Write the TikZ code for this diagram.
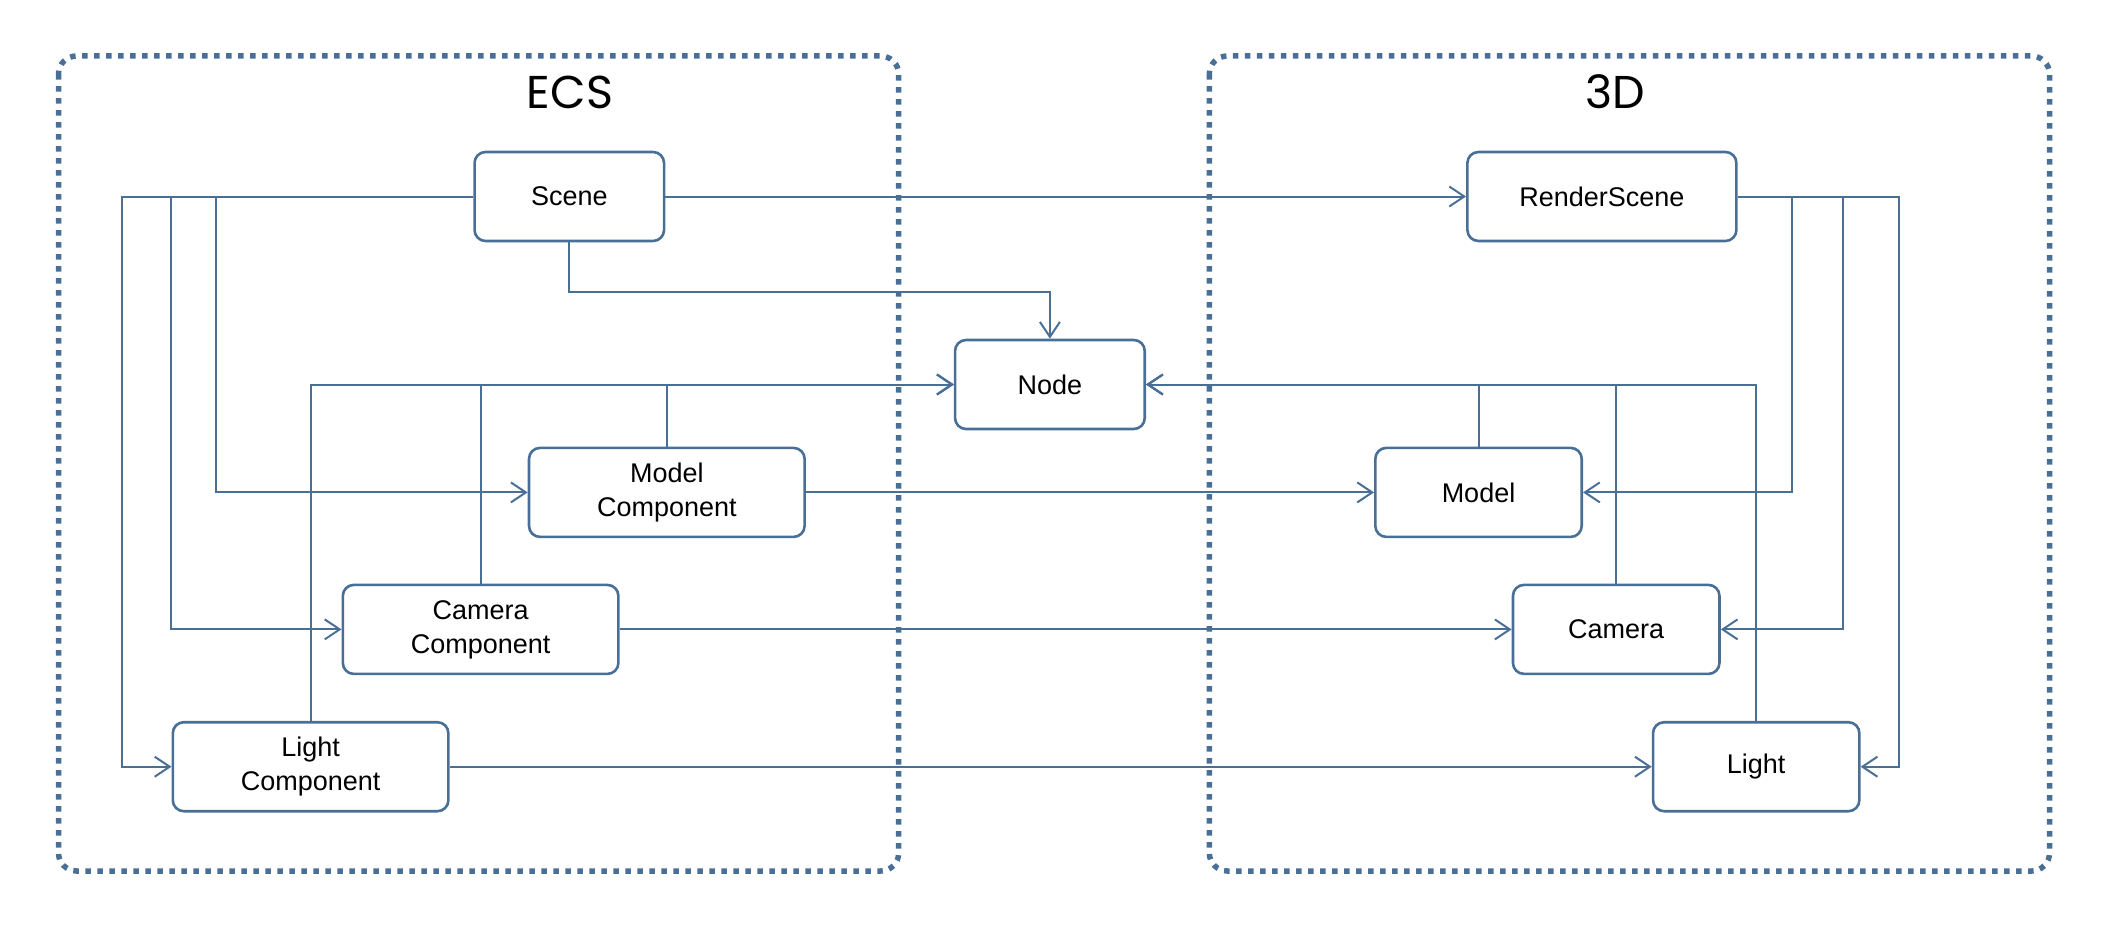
\documentclass[tikz,border=0pt]{standalone}
\usepackage{fontspec}
\setmainfont{Liberation Sans}
\newfontfamily\titlefont{Poppins}
\usetikzlibrary{arrows.meta}
\definecolor{bl}{RGB}{74,111,150}
\begin{document}
\begin{tikzpicture}[x=1pt,y=-1pt,
  box/.style={draw=bl, fill=white, line width=2.6pt, rounded corners=11pt,
    minimum height=89pt, align=center, inner sep=0pt,
    font=\fontsize{27}{34}\selectfont},
  conn/.style={draw=bl, line width=2pt},
  arr/.style={conn, -{Straight Barb[length=15pt,width=20pt,line width=2pt]}},
  group/.style={draw=bl, line width=5.5pt, dash pattern=on 5.5pt off 6.5pt,
    rounded corners=18pt},
  grouptitle/.style={inner sep=0pt, font=\titlefont\fontsize{46}{48}\selectfont}]
\useasboundingbox (0,0) rectangle (2108,934);

% groups
\draw[group] (58.5,56) rectangle (898.7,871);
\draw[group] (1209.3,56) rectangle (2049.5,871);
\node[grouptitle] (ecs) at (570,92) {ECS};
\node[grouptitle] (td) at (1615.3,92) {3D};

% nodes
\node[box, minimum width=189.5pt] (scene) at (569.3,196.5) {Scene};
\node[box, minimum width=269pt] (rscene) at (1601.9,196.5) {RenderScene};
\node[box, minimum width=189.7pt] (node) at (1049.9,384.5) {Node};
\node[box, minimum width=275.6pt] (modc) at (666.8,492.4) {Model\\Component};
\node[box, minimum width=206.4pt] (model) at (1478.5,492.4) {Model};
\node[box, minimum width=275.6pt] (camc) at (480.6,629.4) {Camera\\Component};
\node[box, minimum width=206.5pt] (cam) at (1616.2,629.4) {Camera};
\node[box, minimum width=275.6pt] (lightc) at (310.6,766.7) {Light\\Component};
\node[box, minimum width=206.3pt] (light) at (1756.2,766.7) {Light};

% bend points
\coordinate (s1) at (122,196.5);
\coordinate (s2) at (171.4,196.5);
\coordinate (s3) at (215.8,196.5);
\coordinate (r1) at (1792,196.5);
\coordinate (r2) at (1843,196.5);
\coordinate (r3) at (1899,196.5);

% connectors
\draw[arr] (scene.east) -- (rscene.west);
\draw[arr] (scene.south) -- ++(0,50) -| (node.north);

\draw[arr] (scene.west) -- (s1) |- (lightc.west);
\draw[arr] (scene.west) -- (s2) |- (camc.west);
\draw[arr] (scene.west) -- (s3) |- (modc.west);

\draw[arr] (rscene.east) -- (r1) |- (model.east);
\draw[arr] (rscene.east) -- (r2) |- (cam.east);
\draw[arr] (rscene.east) -- (r3) |- (light.east);

\draw[arr] (lightc.north) |- (node.west);
\draw[arr] (camc.north) |- (node.west);
\draw[arr] (modc.north) |- (node.west);

\draw[arr] (model.north) |- (node.east);
\draw[arr] (cam.north) |- (node.east);
\draw[arr] (light.north) |- (node.east);

\draw[arr] (modc.east) -- (model.west);
\draw[arr] (camc.east) -- (cam.west);
\draw[arr] (lightc.east) -- (light.west);
\end{tikzpicture}
\end{document}
